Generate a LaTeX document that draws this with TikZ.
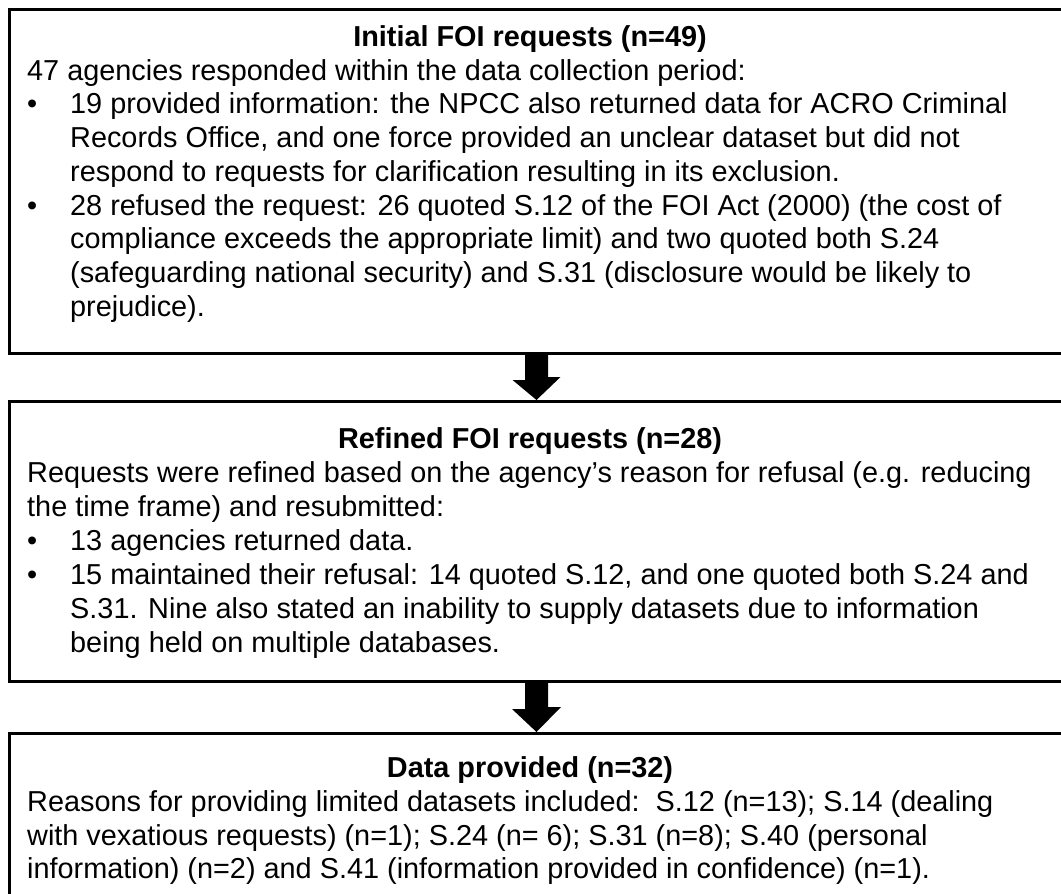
\documentclass[tikz,border=0pt]{standalone}
\usepackage{fontspec}
\setmainfont{Liberation Sans}
\begin{document}
\begin{tikzpicture}[x=1pt,y=-1pt,
  box/.style={draw=black, line width=3pt, rectangle, inner sep=0pt, anchor=north west},
  txt/.style={anchor=base west, inner sep=0pt, font=\fontsize{28.85}{34}\selectfont},
  ttl/.style={anchor=base, inner sep=0pt, font=\fontsize{28.85}{34}\selectfont\bfseries},
  bul/.style={anchor=base west, inner sep=0pt, font=\fontsize{28.85}{34}\selectfont},
  blockarrow/.style={fill=black}]
\useasboundingbox (0,0) rectangle (1061,894);
\clip (0,0) rectangle (1061,894);
% boxes
\node[box, minimum width=1055pt, minimum height=344.5pt] (b1) at (7.5,7.5) {};
\node[box, minimum width=1055pt, minimum height=279.5pt] (b2) at (7.5,400) {};
\node[box, minimum width=1055pt, minimum height=165pt] (b3) at (7.5,732) {};
% arrows
\fill[blockarrow] (b1.south) ++(-11.5,0) -- ++(0,25) -- ++(-12.5,0) -- (b2.north) -- ++(24,-23) -- ++(-12.5,0) -- ++(0,-25) -- cycle;
\fill[blockarrow] (b2.south) ++(-11.5,0) -- ++(0,26.5) -- ++(-13,0) -- (b3.north) -- ++(24.5,-25) -- ++(-13,0) -- ++(0,-26.5) -- cycle;
% box 1
\node[ttl] (h1) at (530,46.5) {Initial FOI requests (n=49)};
\node[txt] (a1) at (27,80) {47 agencies responded within the data collection period:};
\node[bul] (a1b1) at (27,113.5) {•};
\node[txt] (a2) at (70,113.5) {19 provided information: the NPCC also returned data for ACRO Criminal};
\node[txt] (a3) at (70,147) {Records Office, and one force provided an unclear dataset but did not};
\node[txt] (a4) at (70,181) {respond to requests for clarification resulting in its exclusion.};
\node[bul] (a1b2) at (27,215) {•};
\node[txt] (a5) at (70,215) {28 refused the request: 26 quoted S.12 of the FOI Act (2000) (the cost of};
\node[txt] (a6) at (70,248.5) {compliance exceeds the appropriate limit) and two quoted both S.24};
\node[txt] (a7) at (70,282) {(safeguarding national security) and S.31 (disclosure would be likely to};
\node[txt] (a8) at (70,316) {prejudice).};
% box 2
\node[ttl] (h2) at (530,448) {Refined FOI requests (n=28)};
\node[txt] (c1) at (27,482) {Requests were refined based on the agency’s reason for refusal (e.g. reducing};
\node[txt] (c2) at (27,516) {the time frame) and resubmitted:};
\node[bul] (c2b1) at (27,550) {•};
\node[txt] (c3) at (70,550) {13 agencies returned data.};
\node[bul] (c2b2) at (27,584) {•};
\node[txt] (c4) at (70,584) {15 maintained their refusal: 14 quoted S.12, and one quoted both S.24 and};
\node[txt] (c5) at (70,618) {S.31. Nine also stated an inability to supply datasets due to information};
\node[txt] (c6) at (70,652) {being held on multiple databases.};
% box 3
\node[ttl] (h3) at (530,777) {Data provided (n=32)};
\node[txt] (d1) at (27,811) {Reasons for providing limited datasets included:\ \ S.12 (n=13); S.14 (dealing};
\node[txt] (d2) at (27,845) {with vexatious requests) (n=1); S.24 (n= 6); S.31 (n=8); S.40 (personal};
\node[txt] (d3) at (27,878) {information) (n=2) and S.41 (information provided in confidence) (n=1).};
\end{tikzpicture}
\end{document}
